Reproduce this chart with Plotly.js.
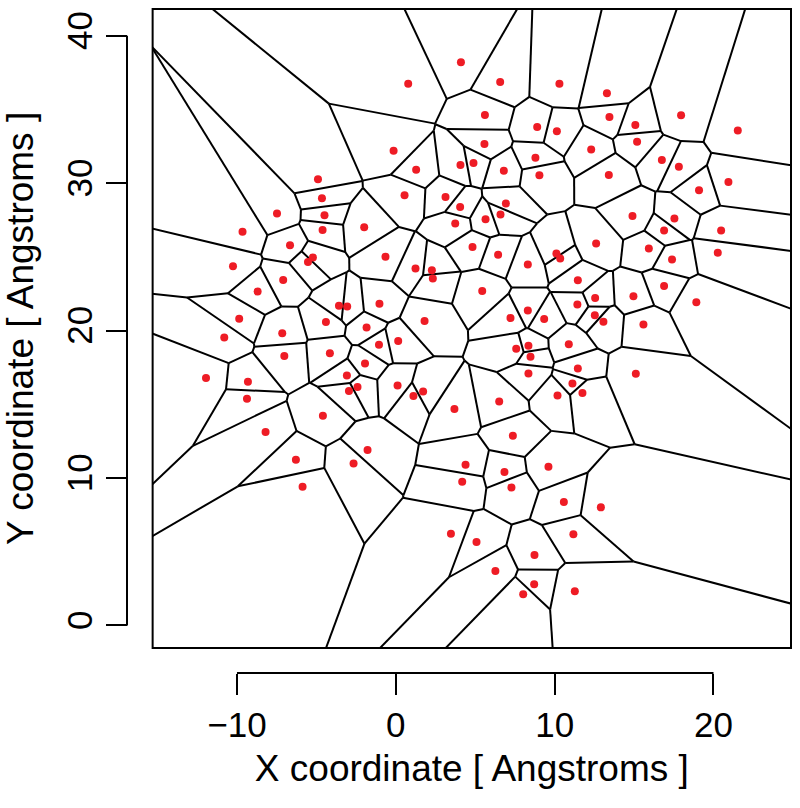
<!DOCTYPE html>
<html>
<head>
<meta charset="utf-8">
<script src="https://cdn.plot.ly/plotly-3.0.1.min.js"></script>
<style>
  body { margin: 0; background: #fff; }
  #chart { width: 800px; height: 808px; }
</style>
</head>
<body>
<div id="chart"></div>
<script>
// atom positions (Angstroms)
var siteX = [-4.90, -4.65, -7.48, -4.49, 4.10, 0.78, 6.57, 10.30, 5.61, 8.90,
  10.14, -0.14, 5.58, 8.79, 1.28, 4.07, 4.89, 6.80, 9.04, 0.55,
  3.13, 4.05, 6.93, 6.59, 5.65, 3.74, 13.29, 13.45, 15.08, 17.96,
  21.53, 12.30, 15.19, 16.75, 17.82, 13.41, 19.09, 20.94, 14.90, 17.54,
  -9.65, -4.61, -1.99, -6.66, -10.25, -5.22, -5.53, -7.09, -8.70, -3.58,
  -3.06, -9.86, -4.40, -1.84, -10.80, -7.15, -4.15, -1.94, -7.02, -11.95,
  -9.31, -3.08, -2.41, -2.95, -9.37, -4.59, -8.20, -0.65, 1.24, 2.27,
  2.33, 4.83, 6.44, 8.31, 10.11, 10.35, 11.46, 5.44, -1.03, 11.43,
  8.31, 7.22, 9.34, 1.81, 0.15, -1.06, 10.89, 8.35, 7.58, 8.48,
  11.46, 8.35, 11.12, 11.75, 0.11, 1.72, 1.11, 10.18, 6.51, 3.69,
  7.37, 16.89, 20.48, 12.61, 15.93, 20.27, 17.39, 16.89, 18.92, 14.96,
  12.55, 12.53, 13.07, 15.59, 15.11, -6.29, -5.87, -2.66, -1.78, 4.39,
  4.18, 6.84, 7.28, 9.61, 10.58, 3.47, 5.08, 11.18, 8.73, 6.27,
  8.71, 8.02, 11.27, 12.91];
var siteY = [30.27, 28.98, 27.94, 27.83, 38.20, 36.75, 36.87, 36.75, 34.63, 33.82,
  33.53, 32.21, 32.66, 31.72, 30.92, 31.24, 31.38, 30.85, 30.54, 29.19,
  29.07, 28.39, 28.62, 27.87, 27.56, 27.27, 36.10, 34.49, 33.95, 34.61,
  33.57, 32.28, 32.82, 31.58, 31.11, 30.56, 29.53, 30.09, 27.78, 27.60,
  26.70, 26.83, 27.02, 25.80, 24.37, 24.96, 24.66, 23.44, 22.65, 21.68,
  21.63, 20.80, 20.58, 20.21, 19.53, 19.83, 18.47, 17.77, 18.27, 16.78,
  16.53, 16.96, 16.17, 15.90, 15.38, 14.22, 13.12, 25.02, 24.21, 24.10,
  23.53, 25.68, 25.14, 24.48, 25.23, 24.89, 23.42, 22.68, 21.82, 21.77,
  21.36, 20.85, 20.78, 20.66, 19.29, 19.04, 19.08, 18.97, 18.77, 18.22,
  17.43, 17.09, 16.41, 15.76, 16.28, 15.87, 15.56, 15.60, 15.19, 14.68,
  12.87, 26.79, 26.79, 25.91, 25.57, 25.29, 24.82, 23.02, 21.93, 22.34,
  22.22, 21.05, 20.60, 20.41, 17.07, 11.24, 9.41, 10.99, 11.90, 10.90,
  9.75, 10.41, 9.36, 10.77, 8.37, 6.22, 5.66, 6.18, 4.78, 3.69,
  2.79, 2.11, 2.31, 8.01];

var xTicks = [-10, 0, 10, 20];
var yTicks = [0, 10, 20, 30, 40];
var xRange = [-15.31, 24.88];
var yRange = [-1.53, 41.82];

// keep the part of poly where a*x + b*y <= c
function clipPoly(poly, a, b, c) {
    var out = [];
    for (var k = 0; k < poly.length; k++) {
        var p = poly[k], q = poly[(k + 1) % poly.length];
        var fp = a * p[0] + b * p[1] - c;
        var fq = a * q[0] + b * q[1] - c;
        if (fp <= 0) out.push(p);
        if ((fp < 0 && fq > 0) || (fp > 0 && fq < 0)) {
            var t = fp / (fp - fq);
            out.push([p[0] + t * (q[0] - p[0]), p[1] + t * (q[1] - p[1])]);
        }
    }
    return out;
}

// Voronoi cell of site i, bounded by a big box
function cellOf(i) {
    var big = 200;
    var poly = [[-big, -big], [big, -big], [big, big], [-big, big]];
    var xi = siteX[i], yi = siteY[i];
    for (var j = 0; j < siteX.length; j++) {
        if (j == i) continue;
        var xj = siteX[j], yj = siteY[j];
        poly = clipPoly(poly, 2 * (xj - xi), 2 * (yj - yi),
            xj * xj + yj * yj - xi * xi - yi * yi);
        if (poly.length == 0) break;
    }
    return poly;
}

var edgeX = [], edgeY = [];
var seen = {};
for (var i = 0; i < siteX.length; i++) {
    var cell = cellOf(i);
    for (var k = 0; k < cell.length; k++) {
        var p = cell[k], q = cell[(k + 1) % cell.length];
        var a = p[0].toFixed(4) + ',' + p[1].toFixed(4);
        var b = q[0].toFixed(4) + ',' + q[1].toFixed(4);
        var key = a < b ? a + '|' + b : b + '|' + a;
        if (seen[key]) continue;
        seen[key] = true;
        edgeX.push(p[0], q[0], null);
        edgeY.push(p[1], q[1], null);
    }
}

var edges = {
    x: edgeX, y: edgeY,
    type: 'scatter', mode: 'lines',
    line: { color: '#000000', width: 2 },
    hoverinfo: 'skip'
};

var atoms = {
    x: siteX, y: siteY,
    type: 'scatter', mode: 'markers',
    marker: { color: '#ee1c25', size: 8 }
};

var font = 'Liberation Sans, Arial, Helvetica, sans-serif';

var layout = {
    width: 800,
    height: 808,
    showlegend: false,
    paper_bgcolor: '#ffffff',
    plot_bgcolor: '#ffffff',
    margin: { l: 127, r: 9, t: 9, b: 135 },
    font: { family: font, color: '#000000' },
    xaxis: {
        domain: [0.0386, 1],
        range: xRange,
        anchor: 'free',
        position: 0,
        tickmode: 'array',
        tickvals: xTicks,
        ticks: 'outside',
        ticklen: 21,
        tickwidth: 2,
        tickcolor: '#000000',
        tickfont: { size: 35, family: font },
        showgrid: false,
        zeroline: false,
        showline: false,
        title: { text: 'X coordinate [ Angstroms ]', font: { size: 37, family: font }, standoff: 12 }
    },
    yaxis: {
        domain: [0.0377, 1],
        range: yRange,
        anchor: 'free',
        position: 0,
        tickmode: 'array',
        tickvals: yTicks,
        ticks: 'outside',
        ticklen: 21,
        tickwidth: 2,
        tickcolor: '#000000',
        tickangle: -90,
        tickfont: { size: 35, family: font },
        showgrid: false,
        zeroline: false,
        showline: false,
        title: { text: 'Y coordinate [ Angstroms ]', font: { size: 37, family: font }, standoff: 14 }
    },
    shapes: [
        // plot frame
        { type: 'rect', xref: 'paper', yref: 'paper', x0: 0.0386, x1: 1, y0: 0.0377, y1: 1,
          line: { color: '#000000', width: 2 } },
        // detached axis lines, R style
        { type: 'line', xref: 'x', yref: 'paper', x0: xTicks[0], x1: xTicks[xTicks.length - 1], y0: 0, y1: 0,
          line: { color: '#000000', width: 2 } },
        { type: 'line', xref: 'paper', yref: 'y', x0: 0, x1: 0, y0: yTicks[0], y1: yTicks[yTicks.length - 1],
          line: { color: '#000000', width: 2 } }
    ]
};

Plotly.newPlot('chart', [edges, atoms], layout, { staticPlot: true });
</script>
</body>
</html>
